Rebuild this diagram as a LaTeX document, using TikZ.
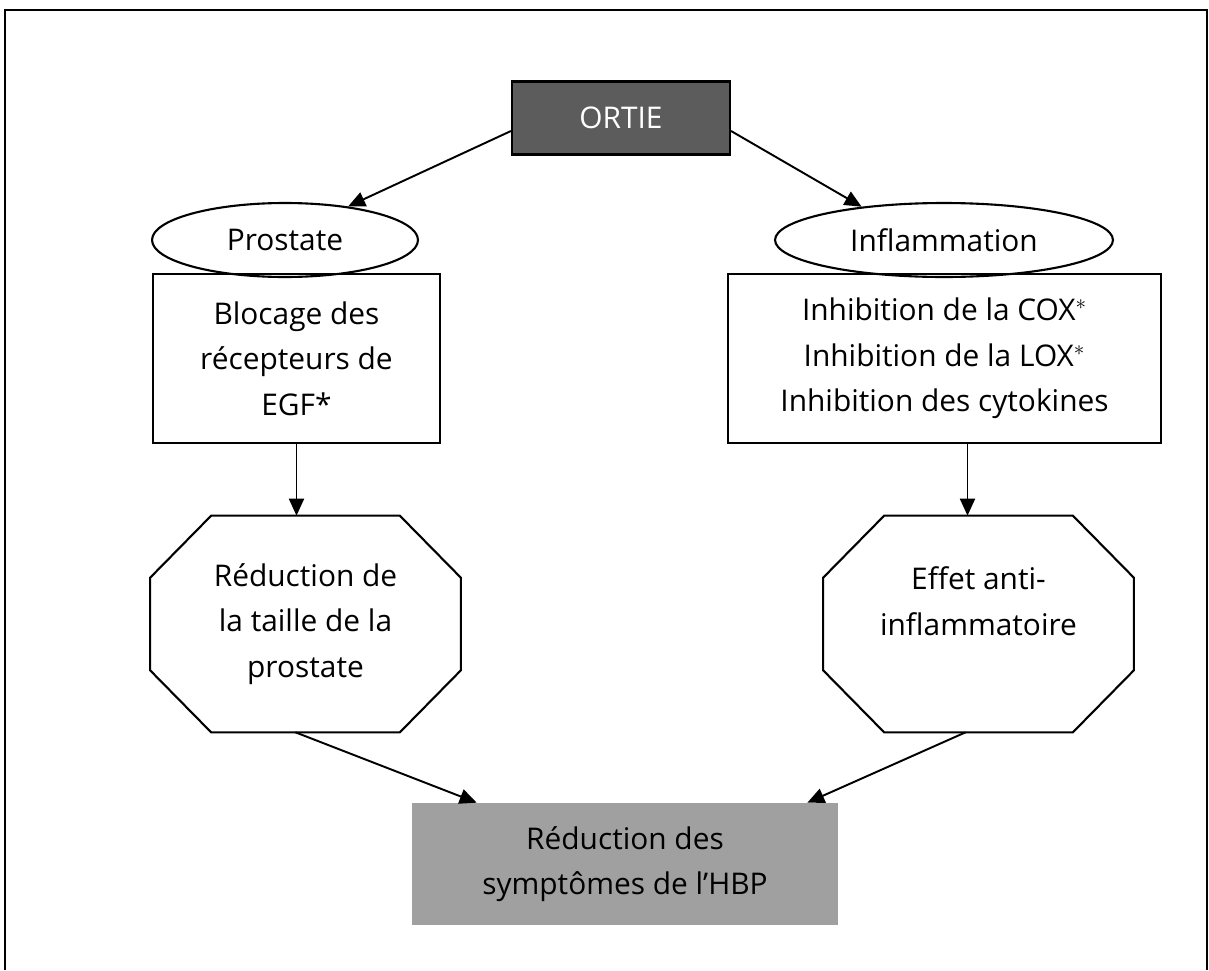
\documentclass[tikz,border=0pt]{standalone}
\usepackage{fontspec}
\setmainfont{Open Sans}
\usetikzlibrary{shapes.geometric,arrows.meta}
\definecolor{darkbox}{HTML}{5C5C5C}
\definecolor{lightbox}{HTML}{A0A0A0}
\begin{document}
\begin{tikzpicture}[x=0.02cm,y=-0.02cm,
    txt/.style={font=\fontsize{17}{26}\selectfont,align=center,inner sep=0pt},
    box/.style={txt,draw,line width=1.2pt,rectangle},
    oval/.style={txt,draw,line width=1.2pt,ellipse,minimum height=1.48cm},
    octo/.style={txt,rectangle,minimum width=6.2cm,minimum height=4.32cm},
    arr/.style={-{Triangle[length=0.34cm,width=0.3cm]},line width=1.1pt}]

  \useasboundingbox (0,0) rectangle (1209,970);
  \draw[line width=1.1pt] (5,970) -- (5,10) -- (1207,10) -- (1207,970);

  \node[box,fill=darkbox,text=white,minimum width=4.36cm,minimum height=1.46cm] (ortie) at (621,118) {ORTIE};

  \node[oval,minimum width=5.32cm] (prostate) at (285,240) {Prostate};
  \node[oval,minimum width=6.76cm] (inflam) at (944,240) {Inflammation};

  \node[box,minimum width=5.74cm,minimum height=3.38cm] (blocage) at (296.5,358.5)
    {Blocage des\\récepteurs de\\EGF*};
  \node[box,minimum width=8.66cm,minimum height=3.38cm] (inhib) at (944.5,358.5)
    {Inhibition de la COX$^*$\\Inhibition de la LOX$^*$\\Inhibition des cytokines};

  \node[octo] (reduc) at (305.5,624) {Réduction de\\la taille de la\\prostate};
  \node[octo] (effet) at (978.5,624) {Effet anti-\\inflammatoire\\\mbox{}};

  \foreach \n in {reduc,effet}
    \draw[line width=1.2pt]
      ([xshift=1.22cm]\n.north west) -- ([xshift=-1.22cm]\n.north east)
      -- ([yshift=-1.24cm]\n.north east) -- ([yshift=1.24cm]\n.south east)
      -- ([xshift=-1.22cm]\n.south east) -- ([xshift=1.22cm]\n.south west)
      -- ([yshift=1.24cm]\n.south west) -- ([yshift=-1.24cm]\n.north west) -- cycle;

  \node[txt,fill=lightbox,minimum width=8.52cm,minimum height=2.44cm] (hbp) at (625,864)
    {Réduction des\\symptômes de l'HBP};

  \draw[arr] ([yshift=-0.26cm]ortie.west) -- (prostate.28);
  \draw[arr] ([yshift=-0.26cm]ortie.east) -- (inflam.158);
  \draw[arr] (blocage.south) -- (blocage.south |- reduc.north);
  \draw[arr] ([xshift=0.46cm]inhib.south) coordinate (inhibout) -- (inhibout |- effet.north);
  \draw[arr] ([xshift=-0.2cm]reduc.south) -- ([xshift=1.3cm]hbp.north west);
  \draw[arr] ([xshift=-0.26cm]effet.south) -- ([xshift=-0.62cm]hbp.north east);

\end{tikzpicture}
\end{document}
